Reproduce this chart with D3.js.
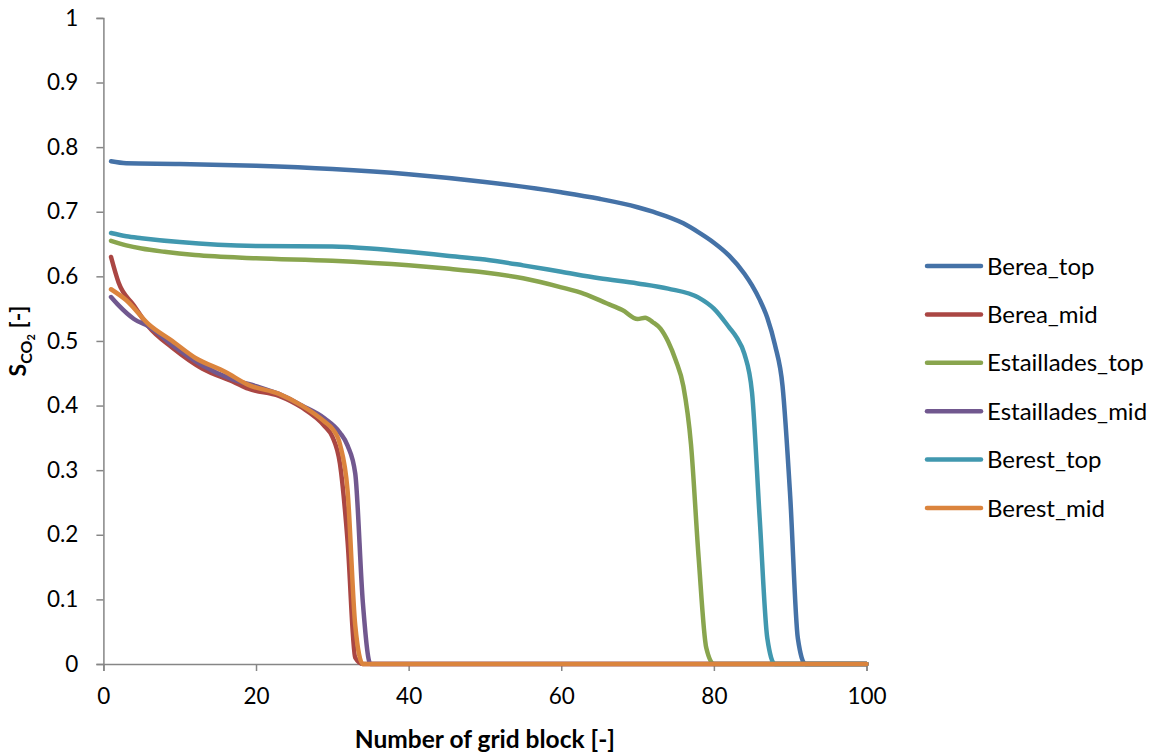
<!DOCTYPE html>
<html>
<head>
<meta charset="utf-8">
<script src="https://cdn.jsdelivr.net/npm/d3@7"></script>
<style>
  html, body { margin: 0; padding: 0; background: #fff; }
  svg { display: block; font-family: Lato, "Open Sans", sans-serif; }
</style>
</head>
<body>
<svg id="chart" width="1162" height="756"></svg>
<script>
// CO2 saturation profiles along the grid blocks for each rock / layer case
const seriesNames = ["Berea_top", "Berea_mid", "Estaillades_top", "Estaillades_mid", "Berest_top", "Berest_mid"];

const bereaTopX = [1, 3, 10, 20, 30, 40, 50, 60, 65, 70, 72, 76, 78, 80, 82, 84, 85, 86, 87, 88, 89, 90, 91, 92, 100];
const bereaTopY = [0.778, 0.775, 0.774, 0.771, 0.766, 0.758, 0.746, 0.730, 0.720, 0.707, 0.700, 0.682, 0.668, 0.652, 0.632, 0.604, 0.586, 0.564, 0.536, 0.494, 0.43, 0.26, 0.04, 0, 0];

const bereaMidX = [1, 2, 4, 6, 9, 13, 17, 19, 23, 26, 29, 30, 31, 32, 33, 34, 100];
const bereaMidY = [0.630, 0.590, 0.555, 0.521, 0.490, 0.457, 0.437, 0.426, 0.415, 0.397, 0.368, 0.352, 0.31, 0.19, 0.01, 0, 0];

const estTopX = [1, 3, 5, 8, 12, 20, 30, 40, 45, 50, 55, 60, 63, 66, 68, 70, 71, 72, 73, 74, 75, 76, 77, 78, 79, 80, 100];
const estTopY = [0.655, 0.648, 0.643, 0.638, 0.633, 0.628, 0.624, 0.617, 0.612, 0.606, 0.597, 0.583, 0.573, 0.558, 0.548, 0.534, 0.536, 0.529, 0.519, 0.499, 0.47, 0.43, 0.34, 0.165, 0.025, 0, 0];

const estMidX = [1, 2, 4, 6, 9, 13, 17, 20, 23, 26, 29, 31, 32, 33, 34, 35, 100];
const estMidY = [0.568, 0.555, 0.534, 0.522, 0.494, 0.462, 0.440, 0.430, 0.418, 0.400, 0.380, 0.358, 0.338, 0.295, 0.095, 0, 0];

const berestTopX = [1, 3, 5, 10, 15, 20, 30, 35, 40, 45, 50, 55, 60, 65, 70, 74, 78, 80, 82, 83, 84, 85, 86, 87, 88, 100];
const berestTopY = [0.667, 0.662, 0.659, 0.653, 0.649, 0.647, 0.646, 0.643, 0.638, 0.632, 0.626, 0.617, 0.607, 0.597, 0.589, 0.581, 0.567, 0.55, 0.521, 0.505, 0.48, 0.42, 0.226, 0.04, 0, 0];

const berestMidX = [1, 3, 6, 9, 12, 16, 19, 23, 26, 29, 30, 31, 32, 33, 34, 100];
const berestMidY = [0.580, 0.563, 0.525, 0.500, 0.474, 0.452, 0.432, 0.418, 0.400, 0.375, 0.364, 0.34, 0.268, 0.06, 0, 0];

const xTicks = [0, 20, 40, 60, 80, 100];
const yTicks = [0, 0.1, 0.2, 0.3, 0.4, 0.5, 0.6, 0.7, 0.8, 0.9, 1];

const palette = ["#4572A7", "#AA4643", "#89A54E", "#71588F", "#4198AF", "#DB843D"];

const seriesX = [bereaTopX, bereaMidX, estTopX, estMidX, berestTopX, berestMidX];
const seriesY = [bereaTopY, bereaMidY, estTopY, estMidY, berestTopY, berestMidY];
const series = seriesNames.map((name, i) => ({
  name,
  color: palette[i],
  points: seriesX[i].map((x, j) => [x, seriesY[i][j]])
}));

const svg = d3.select("#chart");
const plot = { left: 103.4, right: 866.5, top: 17.9, bottom: 664 };

const x = d3.scaleLinear().domain([0, 100]).range([plot.left, plot.right]);
const y = d3.scaleLinear().domain([0, 1]).range([plot.bottom, plot.top]);

const axisColor = "#868686";

// Y axis
const yAxis = svg.append("g")
  .attr("transform", `translate(${plot.left},0)`)
  .call(d3.axisLeft(y).tickValues(yTicks).tickSize(7).tickPadding(18)
    .tickFormat(d => d === 0 || d === 1 ? d3.format("d")(d) : d3.format(".1f")(d)));
yAxis.select(".domain").attr("stroke", axisColor).attr("stroke-width", 1.5);
yAxis.selectAll(".tick line").attr("stroke", axisColor).attr("stroke-width", 1.5);
yAxis.selectAll(".tick text").attr("font-size", 22.5).attr("fill", "#000")
  .attr("font-family", "Lato, sans-serif");

// X axis
const xAxis = svg.append("g")
  .attr("transform", `translate(0,${plot.bottom})`)
  .call(d3.axisBottom(x).tickValues(xTicks).tickSize(7).tickPadding(17).tickFormat(d3.format("d")));
xAxis.select(".domain").attr("stroke", axisColor).attr("stroke-width", 1.5);
xAxis.selectAll(".tick line").attr("stroke", axisColor).attr("stroke-width", 1.5);
xAxis.selectAll(".tick text").attr("font-size", 22.5).attr("fill", "#000")
  .attr("font-family", "Lato, sans-serif");

// Curves
const line = d3.line()
  .x(d => x(d[0]))
  .y(d => y(d[1]))
  .curve(d3.curveMonotoneX);

svg.append("g")
  .selectAll("path")
  .data(series)
  .join("path")
  .attr("d", d => line(d.points))
  .attr("fill", "none")
  .attr("stroke", d => d.color)
  .attr("stroke-width", 4.5)
  .attr("stroke-linejoin", "round")
  .attr("stroke-linecap", "round");

// Axis titles
svg.append("text")
  .attr("x", (plot.left + plot.right) / 2)
  .attr("y", 748)
  .attr("text-anchor", "middle")
  .attr("font-size", 24.5)
  .attr("font-weight", "bold")
  .attr("fill", "#000")
  .text("Number of grid block [-]");

const yTitle = svg.append("text")
  .attr("transform", "translate(26,341) rotate(-90)")
  .attr("text-anchor", "middle")
  .attr("font-size", 23)
  .attr("font-weight", "bold")
  .attr("fill", "#000");
yTitle.append("tspan").text("S");
yTitle.append("tspan").attr("dy", 6).attr("font-size", 16).text("CO");
yTitle.append("tspan").attr("dy", 3).attr("font-size", 11).text("2");
yTitle.append("tspan").attr("dy", -9).text(" [-]");

// Legend
const legend = svg.append("g");
const legendRows = legend.selectAll("g")
  .data(series)
  .join("g")
  .attr("transform", (d, i) => `translate(0,${266 + i * 48.4})`);
legendRows.append("line")
  .attr("x1", 927).attr("x2", 981)
  .attr("y1", 0).attr("y2", 0)
  .attr("stroke", d => d.color)
  .attr("stroke-width", 4.5)
  .attr("stroke-linecap", "round");
legendRows.append("text")
  .attr("x", 987)
  .attr("y", 0)
  .attr("dy", "0.36em")
  .attr("font-size", 24)
  .attr("fill", "#000")
  .text(d => d.name);
</script>
</body>
</html>
